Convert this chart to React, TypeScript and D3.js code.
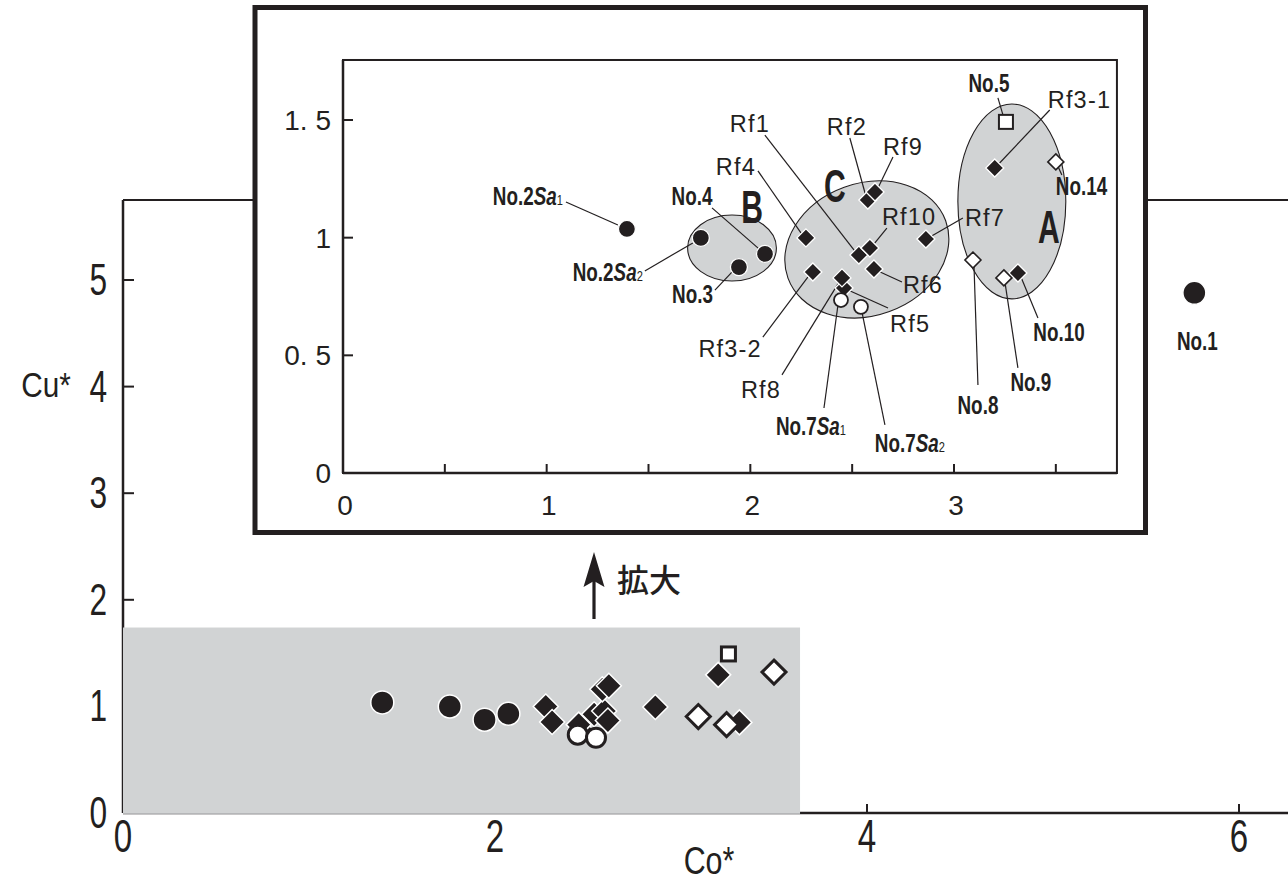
import React from 'react';
import * as d3 from 'd3';

// ---------- data ----------
const sampleNames = ['No.2Sa1', 'No.2Sa2', 'No.3', 'No.4', 'Rf4', 'Rf3-2', 'Rf5', 'Rf8', 'Rf1', 'Rf10', 'Rf6', 'Rf2', 'Rf9', 'Rf7', 'Rf3-1', 'No.10', 'No.7Sa1', 'No.7Sa2', 'No.8', 'No.9', 'No.14', 'No.5', 'No.1'];
const coValues = [1.394, 1.757, 1.944, 2.072, 2.273, 2.307, 2.46, 2.45, 2.533, 2.587, 2.607, 2.577, 2.612, 2.862, 3.2, 3.314, 2.445, 2.543, 3.093, 3.245, 3.5, 3.255, 5.76];
const cuValues = [1.037, 0.999, 0.875, 0.931, 0.999, 0.854, 0.786, 0.829, 0.926, 0.956, 0.867, 1.16, 1.194, 0.994, 1.296, 0.85, 0.735, 0.706, 0.905, 0.829, 1.322, 1.492, 4.88];
const markerKinds = ['dot', 'dot', 'dot', 'dot', 'diamond', 'diamond', 'diamond', 'diamond', 'diamond', 'diamond', 'diamond', 'diamond', 'diamond', 'diamond', 'diamond', 'diamond', 'openCircle', 'openCircle', 'openDiamond', 'openDiamond', 'openDiamond', 'openSquare', 'dot'];

const groupNames = ['A', 'B', 'C'];
const groupCo = [3.284, 1.91, 2.572];
const groupCu = [1.154, 0.956, 0.95];
const groupRxData = [0.265, 0.218, 0.412];
const groupRyData = [0.414, 0.14, 0.281];

const mainXTicks = [0, 2, 4, 6];
const mainYTicks = [0, 1, 2, 3, 4, 5];
const insetXTickLabels = [0, 1, 2, 3];
const insetYTickValues = [0, 0.5, 1, 1.5];
const insetYTickLabels = ['0', '0. 5', '1', '1. 5'];
const insetMinorTicks = [0.5, 1, 1.5, 2, 2.5, 3, 3.5];

const xTitle = 'Co*';
const yTitle = 'Cu*';
const zoomText = '拡大';

// ---------- layout (annotation offsets in px relative to the point) ----------
type LabelLayout = { name: string; dx: number; dy: number; anchor: string; l?: number[] };
const labelLayout: LabelLayout[] = [
  { name: 'No.2Sa1', dx: -64, dy: -24, anchor: 'end', l: [-61, -27, -9, -4] },
  { name: 'No.2Sa2', dx: -58, dy: 43, anchor: 'end', l: [-56, 33, -8, 5] },
  { name: 'No.3', dx: -26, dy: 36, anchor: 'end', l: [-24, 23, -7, 5] },
  { name: 'No.4', dx: -73, dy: -49, anchor: 'middle', l: [-53, -46, -6, -5] },
  { name: 'Rf4', dx: -70, dy: -63, anchor: 'middle', l: [-48, -67, -5, -5] },
  { name: 'Rf3-2', dx: -51, dy: 85, anchor: 'end', l: [-50, 65, -5, 5] },
  { name: 'Rf8', dx: -81, dy: 120, anchor: 'middle', l: [-60, 97, -4, 6] },
  { name: 'Rf5', dx: 46, dy: 44, anchor: 'start', l: [44, 20, 4, 2] },
  { name: 'Rf1', dx: -109, dy: -123, anchor: 'middle', l: [-94, -120, -4, -4] },
  { name: 'Rf10', dx: 12, dy: -23, anchor: 'start', l: [17, -20, 4, -4] },
  { name: 'Rf6', dx: 29, dy: 24, anchor: 'start', l: [28, 13, 4, 2] },
  { name: 'Rf2', dx: -21, dy: -65, anchor: 'middle', l: [-18, -62, -2, -4] },
  { name: 'Rf9', dx: 28, dy: -37, anchor: 'middle', l: [18, -35, 3, -4] },
  { name: 'Rf7', dx: 39, dy: -13, anchor: 'start', l: [37, -21, 4, -2] },
  { name: 'Rf3-1', dx: 53, dy: -60, anchor: 'start', l: [55, -58, 3, -3] },
  { name: 'No.10', dx: 41, dy: 68, anchor: 'middle', l: [20, 45, 3, 4] },
  { name: 'No.14', dx: 0, dy: 33, anchor: 'start', l: [2, 4, 6, 13] },
  { name: 'No.8', dx: 5, dy: 154, anchor: 'middle', l: [5, 125, 1, 4] },
  { name: 'No.9', dx: 27, dy: 113, anchor: 'middle', l: [14, 90, 1, 4] },
  { name: 'No.5', dx: -17, dy: -30, anchor: 'middle', l: [-8, -24, -3, -7] },
  { name: 'No.7Sa1', dx: -30, dy: 135, anchor: 'middle', l: [-17, 108, -3, 5] },
  { name: 'No.7Sa2', dx: 49, dy: 145, anchor: 'middle', l: [24, 118, 1, 5] },
];
const groupLabelOffsets = [[37, 41.5], [20, -25], [-32, -47.5]];
const groupTilt = [0, 0, -20];

const INK = '#231f20';
const GRAY = '#d1d3d4';

const W = 1288;
const H = 883;

// scales
const mx = d3.scaleLinear().domain([0, 6]).range([123, 1239]);
const my = d3.scaleLinear().domain([0, 5]).range([813, 280]);
const ix = d3.scaleLinear().domain([0, 3]).range([343, 954]);
const iy = d3.scaleLinear().domain([0, 1.5]).range([473, 120]);

const mainXMax = 6.4;
const mainYMax = 5.75;
const grayXMax = 3.64;
const grayYMax = 1.74;
const insetXMax = 3.8;
const insetYMax = 1.755;

const mainSizes = { dot: 11.5, dia: 12.5, oDia: 12, oDiaSW: 3, oCirc: 9.5, oCircSW: 3, sq: 14, sqSW: 3, outline: 1.5 };
const insetSizes = { dot: 8.5, dia: 9, oDia: 8, oDiaSW: 1.6, oCirc: 7, oCircSW: 1.8, sq: 14, sqSW: 2, outline: 1.3 };

function diamondPath(x: number, y: number, h: number) {
  return `M${x},${y - h}L${x + h},${y}L${x},${y + h}L${x - h},${y}Z`;
}

function Marker({ kind, x, y, s }: { kind: string; x: number; y: number; s: any }) {
  switch (kind) {
    case 'dot':
      return <circle cx={x} cy={y} r={s.dot} fill={INK} stroke="#fff" strokeWidth={s.outline} />;
    case 'diamond':
      return <path d={diamondPath(x, y, s.dia)} fill={INK} stroke="#fff" strokeWidth={s.outline} />;
    case 'openDiamond':
      return <path d={diamondPath(x, y, s.oDia)} fill="#fff" stroke={INK} strokeWidth={s.oDiaSW} />;
    case 'openCircle':
      return <circle cx={x} cy={y} r={s.oCirc} fill="#fff" stroke={INK} strokeWidth={s.oCircSW} />;
    case 'openSquare':
      return <rect x={x - s.sq / 2} y={y - s.sq / 2} width={s.sq} height={s.sq} fill="#fff" stroke={INK} strokeWidth={s.sqSW} />;
    default:
      return null;
  }
}

function nameContent(name: string) {
  const m = name.match(/^(No\.\d+)(Sa)(\d)$/);
  if (m) {
    return [
      <tspan key="a">{m[1]}</tspan>,
      <tspan key="b" fontStyle="italic">{m[2]}</tspan>,
      <tspan key="c" fontSize="15" fontWeight="normal">{m[3]}</tspan>,
    ];
  }
  return name;
}

function SampleLabel({ name, x, y, anchor }: { name: string; x: number; y: number; anchor: string }) {
  if (name.startsWith('Rf')) {
    return (
      <text x={x} y={y} textAnchor={anchor} fontFamily="'Liberation Sans', Arial, sans-serif" fontSize={23.5} letterSpacing={1.2} fill={INK}>
        {name}
      </text>
    );
  }
  return (
    <text transform={`translate(${x},${y}) scale(0.74,1)`} textAnchor={anchor} fontFamily="'Liberation Sans', Arial, sans-serif" fontWeight="bold" fontSize={25.5} fill={INK}>
      {nameContent(name)}
    </text>
  );
}

export default function App() {
  const idx = sampleNames.map((_, i) => i);
  const insetIdx = idx.filter((i) => coValues[i] <= insetXMax && cuValues[i] <= insetYMax);
  const mainFont = "'Liberation Sans', Arial, sans-serif";

  return (
    <svg width={W} height={H} viewBox={`0 0 ${W} ${H}`} style={{ position: 'absolute', left: 0, top: 0, background: '#fff' }}>
      <rect x={0} y={0} width={W} height={H} fill="#fff" />

      {/* ---------- main chart ---------- */}
      <g>
        <line x1={mx(0)} x2={mx(0)} y1={my(mainYMax)} y2={my(0)} stroke={INK} strokeWidth={2.5} />
        <line x1={mx(0)} x2={mx(mainXMax)} y1={my(mainYMax)} y2={my(mainYMax)} stroke={INK} strokeWidth={2} />
        <line x1={mx(0)} x2={mx(mainXMax)} y1={my(0)} y2={my(0)} stroke={INK} strokeWidth={2.5} />
        {mainYTicks.map((t) => (
          <g key={'my' + t}>
            <line x1={mx(0)} x2={mx(0) + 11} y1={my(t)} y2={my(t)} stroke={INK} strokeWidth={2} />
            <text transform={`translate(${mx(0) - 16},${my(t) + 15}) scale(0.72,1)`} textAnchor="end" fontFamily={mainFont} fontSize={44} fill={INK}>
              {t}
            </text>
          </g>
        ))}
        {mainXTicks.map((t) => (
          <g key={'mx' + t}>
            <line x1={mx(t)} x2={mx(t)} y1={my(0)} y2={my(0) - 9} stroke={INK} strokeWidth={2} />
            <text transform={`translate(${mx(t)},${my(0) + 39}) scale(0.72,1)`} textAnchor="middle" fontFamily={mainFont} fontSize={46} fill={INK}>
              {t}
            </text>
          </g>
        ))}
        <text transform={`translate(46,397) scale(0.85,1)`} textAnchor="middle" fontFamily={mainFont} fontSize={35} fill={INK}>
          {yTitle}
        </text>
        <text transform={`translate(709,874) scale(0.78,1)`} textAnchor="middle" fontFamily={mainFont} fontSize={39} fill={INK}>
          {xTitle}
        </text>

        {/* zoomed region */}
        <rect x={mx(0)} y={my(grayYMax)} width={mx(grayXMax) - mx(0)} height={my(0) - my(grayYMax)} fill={GRAY} />
        <line x1={mx(0)} x2={mx(grayXMax)} y1={my(0) + 0.5} y2={my(0) + 0.5} stroke="#b5b6b8" strokeWidth={1} />

        {idx.map((i) => (
          <Marker key={'mm' + i} kind={markerKinds[i]} x={mx(coValues[i])} y={my(cuValues[i])} s={mainSizes} />
        ))}
        {idx
          .filter((i) => coValues[i] > grayXMax)
          .map((i) => (
            <SampleLabel key={'ml' + i} name={sampleNames[i]} x={mx(coValues[i]) + 3} y={my(cuValues[i]) + 57} anchor="middle" />
          ))}

        {/* arrow + 拡大 */}
        <line x1={594} x2={594} y1={619} y2={578} stroke={INK} strokeWidth={3.2} />
        <path d="M594,552 L604.5,587 L594,581 L583.5,587 Z" fill={INK} />
        <text x={617} y={592} fontFamily="'Noto Sans CJK JP', sans-serif" fontSize={32} fontWeight={500} fill={INK}>
          {zoomText}
        </text>
      </g>

      {/* ---------- inset ---------- */}
      <g>
        <rect x={255} y={7.5} width={890.5} height={525} fill="#fff" stroke={INK} strokeWidth={5} />
        <rect x={ix(0)} y={iy(insetYMax)} width={ix(insetXMax) - ix(0)} height={iy(0) - iy(insetYMax)} fill="none" stroke={INK} strokeWidth={2} />
        <line x1={ix(0)} x2={ix(0)} y1={iy(insetYMax)} y2={iy(0)} stroke={INK} strokeWidth={2.5} />
        <line x1={ix(0)} x2={ix(insetXMax)} y1={iy(0)} y2={iy(0)} stroke={INK} strokeWidth={2.5} />
        {insetMinorTicks.map((t) => (
          <line key={'ixt' + t} x1={ix(t)} x2={ix(t)} y1={iy(0)} y2={iy(0) - 9} stroke={INK} strokeWidth={2} />
        ))}
        {insetYTickValues.slice(1).map((t) => (
          <line key={'iyt' + t} x1={ix(0)} x2={ix(0) + 10} y1={iy(t)} y2={iy(t)} stroke={INK} strokeWidth={2} />
        ))}
        {insetYTickValues.map((t, k) => (
          <text key={'iyl' + t} x={ix(0) - 12} y={iy(t) + 10} textAnchor="end" fontFamily={mainFont} fontSize={28} fill={INK}>
            {insetYTickLabels[k]}
          </text>
        ))}
        {insetXTickLabels.map((t) => (
          <text key={'ixl' + t} x={ix(t) + 2} y={iy(0) + 42} textAnchor="middle" fontFamily={mainFont} fontSize={28} fill={INK}>
            {t}
          </text>
        ))}

        {/* group ellipses */}
        {groupNames.map((g, k) => {
          const cx = ix(groupCo[k]);
          const cy = iy(groupCu[k]);
          const rx = ix(groupRxData[k]) - ix(0);
          const ry = iy(0) - iy(groupRyData[k]);
          return (
            <ellipse key={'ge' + g} cx={cx} cy={cy} rx={rx} ry={ry} transform={`rotate(${groupTilt[k]},${cx},${cy})`} fill={GRAY} stroke={INK} strokeWidth={1.1} />
          );
        })}
        {groupNames.map((g, k) => (
          <text
            key={'gl' + g}
            transform={`translate(${ix(groupCo[k]) + groupLabelOffsets[k][0]},${iy(groupCu[k]) + groupLabelOffsets[k][1]}) scale(0.64,1)`}
            textAnchor="middle"
            fontFamily={mainFont}
            fontWeight="bold"
            fontSize={47}
            fill={INK}
          >
            {g}
          </text>
        ))}

        {/* leader lines */}
        {labelLayout.map((L) => {
          const i = sampleNames.indexOf(L.name);
          const px = ix(coValues[i]);
          const py = iy(cuValues[i]);
          if (!L.l) return null;
          return <line key={'ll' + L.name} x1={px + L.l[0]} y1={py + L.l[1]} x2={px + L.l[2]} y2={py + L.l[3]} stroke={INK} strokeWidth={1.2} />;
        })}

        {insetIdx.map((i) => (
          <Marker key={'im' + i} kind={markerKinds[i]} x={ix(coValues[i])} y={iy(cuValues[i])} s={insetSizes} />
        ))}

        {labelLayout.map((L) => {
          const i = sampleNames.indexOf(L.name);
          const px = ix(coValues[i]);
          const py = iy(cuValues[i]);
          return <SampleLabel key={'il' + L.name} name={L.name} x={px + L.dx} y={py + L.dy} anchor={L.anchor} />;
        })}
      </g>
    </svg>
  );
}
